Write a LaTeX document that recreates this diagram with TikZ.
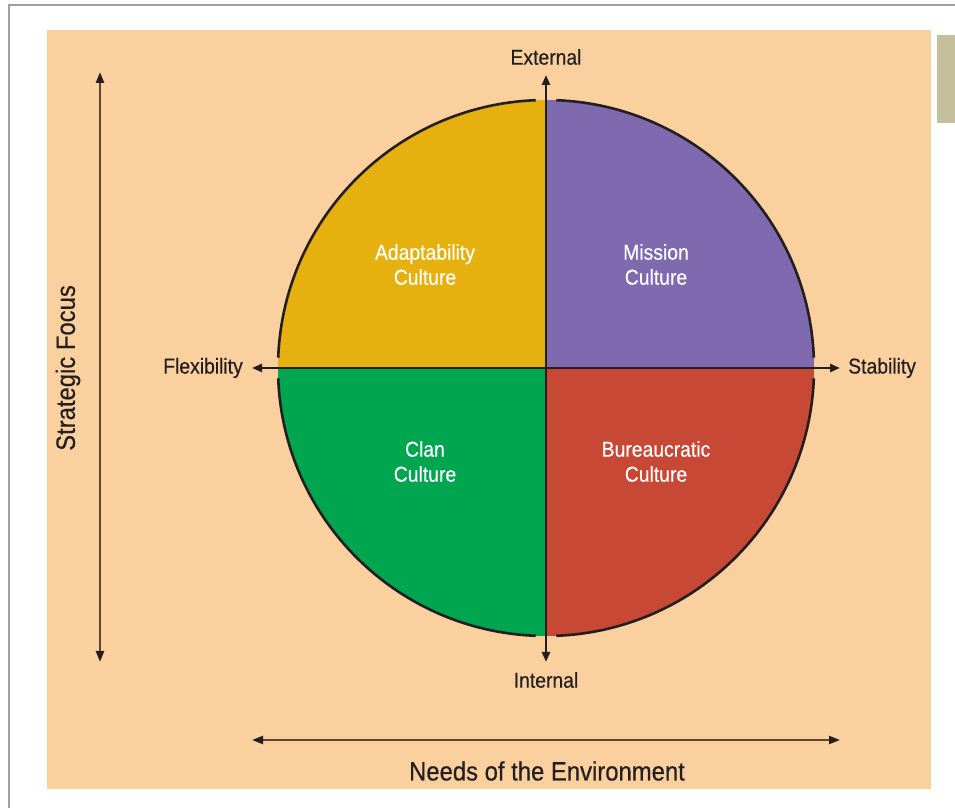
\documentclass[tikz,border=0pt]{standalone}
\usepackage{fontspec}
\setmainfont{Liberation Sans}[FakeStretch=0.9,FakeBold=0.4]
\usetikzlibrary{arrows.meta}
\definecolor{peach}{HTML}{FBD09F}
\definecolor{sage}{HTML}{C4C09C}
\definecolor{frame}{HTML}{A0A0A0}
\definecolor{qyellow}{HTML}{E6B00F}
\definecolor{qpurple}{HTML}{7F6AB0}
\definecolor{qgreen}{HTML}{00A550}
\definecolor{qred}{HTML}{C84836}
\definecolor{ink}{HTML}{231F20}
\definecolor{brown}{HTML}{5B4636}
\tikzset{
  axisboth/.style={draw=ink, line width=2.6pt, {Triangle[length=10pt,width=8pt]}-{Triangle[length=10pt,width=8pt]}},
  outer/.style={draw=brown, line width=2.2pt, {Triangle[length=11pt,width=8pt,color=ink]}-{Triangle[length=11pt,width=8pt,color=ink]}},
  lab/.style={font=\fontsize{21.5}{25}\selectfont, text=ink, inner sep=0pt},
  qlab/.style={font=\fontsize{21.5}{25}\selectfont, text=white, align=center, inner sep=0pt},
  biglab/.style={font=\fontsize{26.5}{30}\selectfont, text=ink, inner sep=0pt},
  rim/.style={draw=ink, line width=2.6pt}
}
\begin{document}
\begin{tikzpicture}[x=1pt,y=1pt]
\useasboundingbox (0,0) rectangle (955,808);
% backgrounds
\fill[peach] (47,19) rectangle (931,778);
\fill[sage] (937,685) rectangle (955,773);
\draw[frame, line width=2.5pt] (9,0) -- (9,803) -- (955,803);
% circle quadrants
\coordinate (O) at (546,440);
\def\R{268}
\fill[qpurple] (O) -- ++(0:\R) arc[start angle=0,end angle=90,radius=\R] -- cycle;
\fill[qyellow] (O) -- ++(90:\R) arc[start angle=90,end angle=180,radius=\R] -- cycle;
\fill[qgreen] (O) -- ++(180:\R) arc[start angle=180,end angle=270,radius=\R] -- cycle;
\fill[qred] (O) -- ++(270:\R) arc[start angle=270,end angle=360,radius=\R] -- cycle;
% rim with gaps at the axes
\draw[rim] (O) ++(2.2:\R) arc[start angle=2.2,end angle=87.8,radius=\R];
\draw[rim] (O) ++(92.2:\R) arc[start angle=92.2,end angle=177.8,radius=\R];
\draw[rim] (O) ++(182.2:\R) arc[start angle=182.2,end angle=267.8,radius=\R];
\draw[rim] (O) ++(272.2:\R) arc[start angle=272.2,end angle=357.8,radius=\R];
% axis labels
\node[lab] (ext) at (546,751) {External};
\node[lab] (int) at (546,128) {Internal};
\node[lab, anchor=east] (flex) at (243,440) {Flexibility};
\node[lab, anchor=west] (stab) at (848,440) {Stability};
% axes
\coordinate (vtop) at (546,733);
\coordinate (vbot) at (546,146);
\coordinate (hleft) at (252,440);
\coordinate (hright) at (840,440);
\draw[axisboth] (vbot) -- (vtop);
\draw[axisboth] (hleft) -- (hright);
% quadrant labels
\node[qlab] (adapt) at (425,543.5) {Adaptability\\Culture};
\node[qlab] (mission) at (656,543.5) {Mission\\Culture};
\node[qlab] (clan) at (425,346.5) {Clan\\Culture};
\node[qlab] (bureau) at (656,346.5) {Bureaucratic\\Culture};
% outer dimension arrows
\coordinate (sftop) at (100,736);
\coordinate (sfbot) at (100,146);
\draw[outer] (sfbot) -- (sftop);
\node[biglab, rotate=90] (sf) at (68,440) {Strategic Focus};
\coordinate (neleft) at (252,68);
\coordinate (neright) at (840,68);
\draw[outer] (neleft) -- (neright);
\node[biglab] (needs) at (547,37) {Needs of the Environment};
\end{tikzpicture}
\end{document}
